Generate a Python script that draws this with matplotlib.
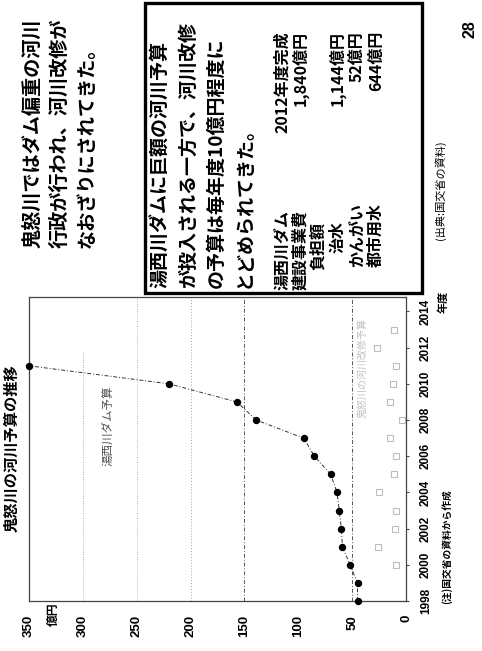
import matplotlib
matplotlib.use("Agg")
import matplotlib.pyplot as plt
from matplotlib.patches import Rectangle

plt.rcParams['font.family'] = ['Noto Sans CJK JP', 'DejaVu Sans']

# ---- data -------------------------------------------------------------
years = [1998, 1999, 2000, 2001, 2002, 2003, 2004, 2005, 2006, 2007,
         2008, 2009, 2010, 2011]
river_budget = [45, 45, 52, 59, 60, 62, 64, 70, 85, 95, 139, 157, 220, 350]

improve_years = [2000, 2001, 2002, 2003, 2004, 2005, 2006, 2007, 2008,
                 2009, 2010, 2011, 2012, 2013]
improve_budget = [9, 26, 10, 9, 25, 11, 9, 15, 4, 15, 12, 9, 27, 11]

value_ticks = [0, 50, 100, 150, 200, 250, 300, 350]
year_ticks = [1998, 2000, 2002, 2004, 2006, 2008, 2010, 2012, 2014]

title_lines = ["鬼怒川ではダム偏重の河川",
               "行政が行われ、河川改修が",
               "なおざりにされてきた。"]
box_lines = ["湯西川ダムに巨額の河川予算",
             "が投入される一方で、河川改修",
             "の予算は毎年度10億円程度に",
             "とどめられてきた。"]
dam_labels = ["湯西川ダム", "建設事業費", "負担額", "治水", "かんがい", "都市用水"]
dam_values = ["2012年度完成", "1,840億円", "", "1,144億円", "52億円", "644億円"]

W, H = 482, 651
fig = plt.figure(figsize=(W / 100, H / 100), dpi=100)


def fx(px):
    return px / W


def fy(py):
    return 1 - py / H


def vtext(x, y, s, size, va='bottom', ha='center', weight='bold', **kw):
    fig.text(fx(x), fy(y), s, rotation=90, fontsize=size, fontweight=weight,
             ha=ha, va=va, **kw)


# ---- headline ---------------------------------------------------------
for xc, line in zip([33, 60, 87], title_lines):
    vtext(xc, 248, line, 13.8)

# ---- boxed note -------------------------------------------------------
fig.patches.append(Rectangle((fx(145), fy(293)), fx(422) - fx(145),
                             fy(3) - fy(293), transform=fig.transFigure,
                             fill=True, facecolor='white', edgecolor='black',
                             linewidth=2.4, zorder=0))
for xc, line in zip([160, 188, 216, 244], box_lines):
    vtext(xc, 288, line, 13.7)

label_x = [282, 300, 318, 337, 357, 376]
label_start = [290, 290, 270, 253, 267, 267]
for xc, y0, lab, val in zip(label_x, label_start, dam_labels, dam_values):
    vtext(xc, y0, lab, 11.5)
    if val:
        vtext(xc, 31, val, 11.5, va='top')

vtext(440, 190, "(出典:国交省の資料)", 8, va='center', weight='normal')
vtext(470, 29, "28", 11.5, va='center', family=['Liberation Sans'])

# ---- chart ------------------------------------------------------------
ax = fig.add_axes([fx(29), fy(601), fx(406) - fx(29), fy(297) - fy(601)])
ax.set_xlim(350, 0)
ax.set_ylim(1998, 2014.8)

for v, style, col, top in [(300, (0, (1, 1.5)), '#b0b0b0', 0.82),
                           (250, (0, (1, 1.5)), '#b0b0b0', 1.0),
                           (200, (0, (1, 2)), '#a0a0a0', 1.0),
                           (150, (0, (4, 2, 1, 2)), '#555555', 1.0),
                           (50, (0, (4, 2, 1, 2)), '#555555', 1.0)]:
    ax.axvline(v, ymin=0, ymax=top, color=col, lw=0.7, linestyle=style,
               zorder=1)

ax.plot(improve_budget, improve_years, linestyle='none', marker='s',
        markersize=4.5, markerfacecolor='white', markeredgecolor='#bdbdbd',
        markeredgewidth=0.8, zorder=2)
ax.plot(river_budget, years, color='#333333', lw=0.7,
        linestyle=(0, (4, 2, 1, 2)), marker='o', markersize=4.3,
        markerfacecolor='black', markeredgecolor='black', zorder=3,
        clip_on=False)

ax.text(277, 2007.7, "湯西川ダム予算", rotation=90, fontsize=8.3,
        color='#505050', ha='center', va='center')
ax.text(40, 2010.9, "鬼怒川の河川改修予算", rotation=90, fontsize=7.2,
        color='#c0c0c0', ha='center', va='center')

ax.set_xticks(value_ticks)
ax.set_xticklabels([str(v) for v in value_ticks], rotation=90,
                   fontsize=9.5, fontweight='bold',
                   family=['Liberation Sans'])
ax.tick_params(axis='x', length=0, pad=10)

ax.yaxis.tick_right()
ax.set_yticks(year_ticks)
ax.set_yticklabels([str(y) for y in year_ticks], rotation=90,
                   fontsize=8.5, fontweight='bold', va='center',
                   family=['Liberation Sans'])
ax.tick_params(axis='y', length=2, direction='out', pad=8, color='#444444')

for sp in ax.spines.values():
    sp.set_color('#444444')
    sp.set_linewidth(0.9)

vtext(12, 448, "鬼怒川の河川予算の推移", 11, va='center')
vtext(53, 614, "億円", 8.5, va='center')
vtext(443, 302, "年度", 8, va='center')
vtext(447, 547, "(注)国交省の資料から作成", 7, va='center')

fig.savefig("out.png", dpi=100, facecolor='white')
